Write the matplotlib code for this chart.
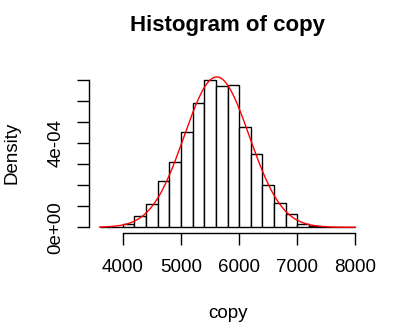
import numpy as np
import matplotlib.pyplot as plt

# histogram of copy (R style, density scale, bin width 200)
bin_edges = [3600, 3800, 4000, 4200, 4400, 4600, 4800, 5000, 5200, 5400, 5600,
             5800, 6000, 6200, 6400, 6600, 6800, 7000, 7200, 7400, 7600, 7800, 8000]
density = [0.0, 0.0, 0.16e-4, 0.55e-4, 1.12e-4, 2.19e-4, 3.11e-4, 4.50e-4, 5.91e-4,
           7.00e-4, 6.68e-4, 6.72e-4, 4.74e-4, 3.46e-4, 1.98e-4, 1.13e-4, 0.62e-4,
           0.15e-4, 0.05e-4, 0.03e-4, 0.0, 0.0]

# fitted normal curve
fit_mean = 5615
fit_sd = 560

x_ticks = [4000, 5000, 6000, 7000, 8000]
y_ticks = [0, 1e-4, 2e-4, 3e-4, 4e-4, 5e-4, 6e-4, 7e-4]
y_labels = ['0e+00', '', '', '', '4e-04', '', '', '']

plt.rcParams['font.family'] = ['Liberation Sans', 'DejaVu Sans']

fig = plt.figure(figsize=(3.96, 3.35), dpi=100)
ax = fig.add_axes([0.2255, 0.3036, 0.698, 0.4854])

left = np.array(bin_edges[:-1])
width = np.diff(bin_edges)
ax.bar(left, density, width=width, align='edge', color='white',
       edgecolor='black', linewidth=1.0)

xs = np.linspace(bin_edges[0], bin_edges[-1], 400)
ys = np.exp(-0.5 * ((xs - fit_mean) / fit_sd) ** 2) / (fit_sd * np.sqrt(2 * np.pi))
ax.plot(xs, ys, color='red', linewidth=1.0)

ax.set_xlim(3424, 8176)
ax.set_ylim(-0.285e-4, 7.42e-4)

for s in ['top', 'right']:
    ax.spines[s].set_visible(False)
ax.spines['left'].set_bounds(0, 7e-4)
ax.spines['bottom'].set_bounds(4000, 8000)
ax.spines['left'].set_linewidth(1.0)
ax.spines['bottom'].set_linewidth(1.0)

ax.set_xticks(x_ticks)
ax.set_xticklabels([str(t) for t in x_ticks], fontsize=13.5)
ax.set_yticks(y_ticks)
ax.set_yticklabels(y_labels, fontsize=13.5, rotation=90, va='center')
ax.tick_params(axis='both', length=8.5, width=1.0, direction='out')
ax.tick_params(axis='x', pad=10)
ax.tick_params(axis='y', pad=9.5)

fig.text(0.5745, 1 - 26 / 335, 'Histogram of copy', ha='center', va='center',
         fontsize=16, fontweight='bold')
fig.text(0.5745, 1 - 313 / 335, 'copy', ha='center', va='center', fontsize=13.5)
fig.text(12 / 396, 1 - 153 / 335, 'Density', ha='center', va='center',
         fontsize=13.5, rotation=90)

fig.savefig('out.png', dpi=100)
